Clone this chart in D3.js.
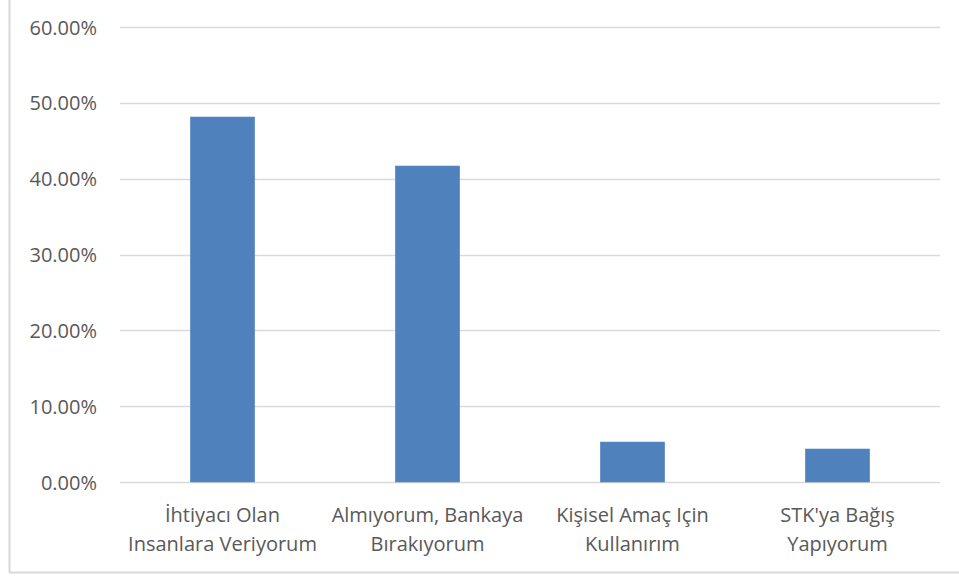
<!DOCTYPE html>
<html>
<head>
<meta charset="utf-8">
<script src="https://cdn.jsdelivr.net/npm/d3@7"></script>
<style>
  html, body { margin: 0; padding: 0; background: #fff; }
  svg { display: block; }
</style>
</head>
<body>
<svg id="chart" width="959" height="577"></svg>
<script>
// Categories (two-line labels) and their shares in percent
const categories = [
  ["İhtiyacı Olan", "Insanlara Veriyorum"],
  ["Almıyorum, Bankaya", "Bırakıyorum"],
  ["Kişisel Amaç Için", "Kullanırım"],
  ["STK'ya Bağış", "Yapıyorum"]
];
const values = [48.13, 41.67, 5.27, 4.35];
const yTicks = [0, 10, 20, 30, 40, 50, 60];

const W = 959, H = 577;
const margin = { top: 27, right: 19, bottom: 95, left: 120 };
const svg = d3.select("#chart");
const font = "'Open Sans', 'Noto Sans', sans-serif";
const textColor = "#595959";
const fontSize = 20;

// outer frame (left and bottom edges visible)
svg.append("line").attr("x1", 9.5).attr("x2", 9.5).attr("y1", 0).attr("y2", 572.5)
  .attr("stroke", "#d9d9d9").attr("stroke-width", 2);
svg.append("line").attr("x1", 9).attr("x2", W).attr("y1", 572.5).attr("y2", 572.5)
  .attr("stroke", "#d9d9d9").attr("stroke-width", 2);

const x = d3.scaleBand()
  .domain(d3.range(categories.length))
  .range([margin.left, W - margin.right])
  .paddingInner(0.686).paddingOuter(0.343);

const y = d3.scaleLinear()
  .domain([0, 60])
  .range([H - margin.bottom, margin.top]);

// horizontal gridlines
svg.append("g")
  .selectAll("line")
  .data(yTicks)
  .join("line")
  .attr("x1", margin.left).attr("x2", W - margin.right)
  .attr("y1", d => Math.round(y(d)) + 0.5).attr("y2", d => Math.round(y(d)) + 0.5)
  .attr("stroke", "#d9d9d9").attr("stroke-width", 1.5);

// y axis labels
const yAxis = d3.axisLeft(y).tickValues(yTicks).tickSize(0).tickPadding(0)
  .tickFormat(d => d.toFixed(2) + "%");
const gy = svg.append("g").attr("transform", `translate(97,0)`).call(yAxis);
gy.select(".domain").remove();
gy.selectAll("text")
  .attr("font-family", font).attr("font-size", fontSize).attr("fill", textColor)
  .attr("dy", "0.35em");

// bars
svg.append("g")
  .selectAll("rect")
  .data(values)
  .join("rect")
  .attr("x", (d, i) => x(i))
  .attr("width", x.bandwidth())
  .attr("y", d => y(d))
  .attr("height", d => y(0) - y(d))
  .attr("fill", "#4f81bd")
  .attr("stroke", "#5b8ac4").attr("stroke-width", 0.6);

// category labels
const labels = svg.append("g")
  .selectAll("text")
  .data(categories)
  .join("text")
  .attr("text-anchor", "middle")
  .attr("font-family", font).attr("font-size", fontSize).attr("fill", textColor)
  .attr("transform", (d, i) => `translate(${x(i) + x.bandwidth() / 2},0)`);
labels.selectAll("tspan")
  .data(d => d)
  .join("tspan")
  .attr("x", 0)
  .attr("y", (d, j) => 522 + j * 29)
  .text(d => d);
</script>
</body>
</html>
